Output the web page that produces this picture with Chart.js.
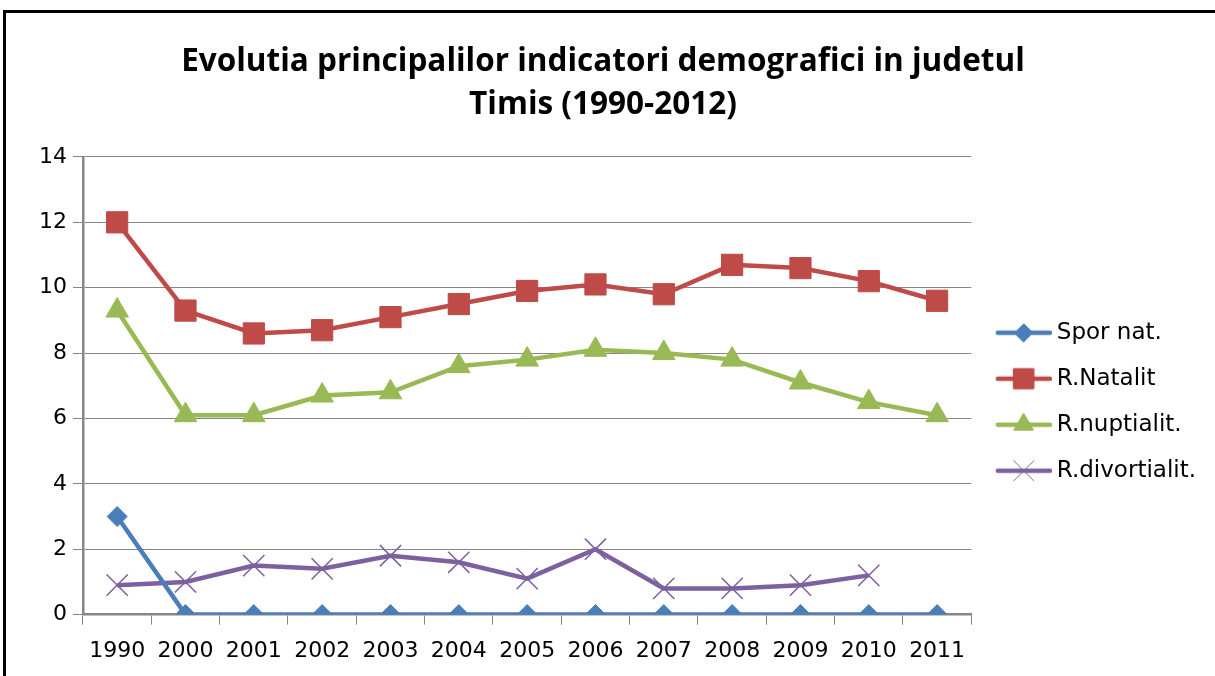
<!DOCTYPE html>
<html>
<head>
<meta charset="utf-8">
<script src="https://cdn.jsdelivr.net/npm/chart.js@4.4.1/dist/chart.umd.min.js"></script>
<style>
  html, body { margin: 0; padding: 0; background: #fff; overflow: hidden; }
  #wrap { position: absolute; left: 0; top: 0; width: 1215px; height: 676px; }
  #frame { position: absolute; left: 3px; top: 10px; width: 1400px; height: 900px;
           border-left: 3px solid #000; border-top: 3px solid #000; pointer-events: none; }
</style>
</head>
<body>
<div id="wrap"><canvas id="chart"></canvas></div>
<div id="frame"></div>
<script>
// categorii (ani)
const years = ["1990", "2000", "2001", "2002", "2003", "2004", "2005", "2006", "2007", "2008", "2009", "2010", "2011"];

// valori
const sporNat = [3, 0, 0, 0, 0, 0, 0, 0, 0, 0, 0, 0, 0];
const rNatalit = [12, 9.3, 8.6, 8.7, 9.1, 9.5, 9.9, 10.1, 9.8, 10.7, 10.6, 10.2, 9.6];
const rNuptialit = [9.3, 6.1, 6.1, 6.7, 6.8, 7.6, 7.8, 8.1, 8.0, 7.8, 7.1, 6.5, 6.1];
const rDivortialit = [0.9, 1.0, 1.5, 1.4, 1.8, 1.6, 1.1, 2.0, 0.8, 0.8, 0.9, 1.2, null];

const seriesNames = ["Spor nat.", "R.Natalit", "R.nuptialit.", "R.divortialit."];
const yTicks = [0, 2, 4, 6, 8, 10, 12, 14];

const colors = ["#4A7EBB", "#BE4B48", "#98B954", "#7D60A0"];
const markers = ["rectRot", "rect", "triangle", "crossRot"];
const radii = [10, 15, 13, 15];
const legendRadii = [9, 14, 11, 14];

// imagine mica pentru legenda: linie + marker
function legendIcon(color, style, radius) {
  const c = document.createElement("canvas");
  c.width = 64;
  c.height = 30;
  const ctx = c.getContext("2d");
  ctx.strokeStyle = color;
  ctx.fillStyle = color;
  ctx.lineWidth = 4.5;
  ctx.lineCap = "round";
  ctx.beginPath();
  ctx.moveTo(10, 15);
  ctx.lineTo(62, 15);
  ctx.stroke();
  ctx.lineWidth = 1;
  Chart.helpers.drawPoint(ctx, { pointStyle: style, radius: radius, borderWidth: 1, rotation: 0 }, 36, 15);
  if (style !== "crossRot") ctx.fill();
  ctx.stroke();
  return c;
}

const allData = [sporNat, rNatalit, rNuptialit, rDivortialit];

const datasets = allData.map((vals, i) => ({
  label: seriesNames[i],
  data: vals,
  borderColor: colors[i],
  backgroundColor: colors[i],
  borderWidth: 4.5,
  pointStyle: markers[i],
  pointRadius: radii[i],
  pointHoverRadius: radii[i],
  pointBorderWidth: i === 3 ? 1.5 : 1,
  pointBorderColor: colors[i],
  pointBackgroundColor: colors[i],
  tension: 0,
  spanGaps: false,
}));

const icons = colors.map((c, i) => legendIcon(c, markers[i], legendRadii[i]));

const tickFont = { family: "'DejaVu Sans', sans-serif", size: 22 };
const legendFont = { family: "'DejaVu Sans', sans-serif", size: 23 };

const config = {
  type: "line",
  data: { labels: years, datasets },
  options: {
    responsive: true,
    maintainAspectRatio: false,
    animation: false,
    layout: { padding: { left: 0, right: 9, top: 8, bottom: -1 } },
    plugins: {
      title: {
        display: true,
        text: ["Evolutia principalilor indicatori demografici in judetul", "Timis (1990-2012)"],
        color: "#000",
        font: { family: "'Open Sans', sans-serif", size: 31.5, weight: "bold", lineHeight: 1.38 },
        padding: { top: 32, bottom: 30 },
      },
      legend: {
        position: "right",
        align: "center",
        title: { display: true, text: " ", font: { size: 12, lineHeight: 1.2 }, padding: { top: 104, bottom: 0 } },
        labels: {
          usePointStyle: true,
          pointStyleWidth: 51,
          color: "#000",
          font: legendFont,
          padding: 23,
          generateLabels: (chart) => {
            const items = Chart.defaults.plugins.legend.labels.generateLabels(chart);
            items.forEach((it) => { it.pointStyle = icons[it.datasetIndex]; });
            return items;
          },
        },
      },
      tooltip: { enabled: false },
    },
    scales: {
      x: {
        offset: true,
        grid: { display: true, drawOnChartArea: false, drawTicks: true, tickLength: 10, offset: true, color: "#868686", lineWidth: 1 },
        border: { color: "#868686", width: 2.5 },
        ticks: { color: "#000", font: tickFont, padding: 13, maxRotation: 0, autoSkip: false },
      },
      y: {
        min: 0,
        max: 14,
        afterBuildTicks: (axis) => { axis.ticks = yTicks.map((v) => ({ value: v })); },
        afterFit: (axis) => { axis.width += 33; },
        grid: { color: "#868686", lineWidth: 1, tickLength: 10 },
        border: { color: "#868686", width: 2.5 },
        ticks: { color: "#000", font: tickFont, padding: 6 },
      },
    },
  },
};

new Chart(document.getElementById("chart"), config);
</script>
</body>
</html>
